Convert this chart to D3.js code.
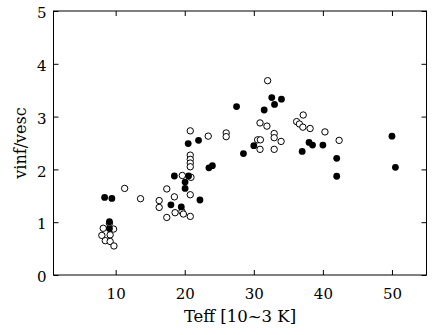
<!DOCTYPE html>
<html>
<head>
<meta charset="utf-8">
<script src="https://cdn.jsdelivr.net/npm/d3@7"></script>
<style>
  body { margin: 0; background: #fff; }
  text { font-family: "DejaVu Serif", serif; fill: #000; }
</style>
</head>
<body>
<div id="chart"></div>
<script>
// Data (Teff in 10^3 K, vinf/vesc)
const filledTeff = [8.4, 9.45, 9.1, 9.1, 18.0, 19.5, 20.05, 20.05, 18.5, 20.55, 22.2, 20.5, 22.0, 24.0, 23.5,
  27.5, 28.5, 30.0, 31.5, 32.6, 33.0, 34.0, 37.0, 38.0, 38.5, 40.0, 42.0, 42.0, 50.0, 50.5];
const filledRatio = [1.47, 1.45, 1.01, 0.88, 1.33, 1.29, 1.76, 1.64, 1.875, 1.875, 1.42, 2.49, 2.55, 2.07, 2.03,
  3.19, 2.30, 2.45, 3.125, 3.36, 3.23, 3.33, 2.34, 2.51, 2.46, 2.46, 2.21, 1.87, 2.63, 2.04];

const openTeff = [11.3, 13.6, 8.2, 9.7, 8.0, 9.2, 8.5, 9.2, 9.75, 9.1, 16.3, 16.3, 17.4, 18.5, 18.6, 19.6, 19.8,
  17.4, 20.8, 20.8, 19.65, 20.9, 20.8, 20.8, 20.8, 20.8, 20.8, 23.4, 26.0, 26.0, 30.55, 30.95, 30.9, 30.9, 31.9,
  32.0, 32.95, 32.95, 33.95, 32.95, 36.2, 36.6, 37.15, 37.1, 38.15, 40.3, 42.35];
const openRatio = [1.64, 1.445, 0.885, 0.87, 0.75, 0.76, 0.65, 0.635, 0.55, 0.98, 1.41, 1.28, 1.63, 1.48, 1.18, 1.2, 1.155,
  1.09, 1.11, 1.52, 1.885, 1.85, 2.27, 2.19, 2.12, 2.05, 2.73, 2.63, 2.69, 2.62, 2.56, 2.56, 2.38, 2.88, 2.82,
  3.68, 2.68, 2.6, 2.53, 2.38, 2.905, 2.86, 3.03, 2.8, 2.775, 2.71, 2.55];

const xTicks = [10, 20, 30, 40, 50];
const yTicks = [0, 1, 2, 3, 4, 5];

// Dimensions
const width = 437, height = 335;
const margin = { left: 53.5, right: 10.5, top: 11, bottom: 60 };
const ctrWidth = width - margin.left - margin.right;
const ctrHeight = height - margin.top - margin.bottom;

const svg = d3.select("#chart").append("svg")
  .attr("width", width)
  .attr("height", height);

const ctr = svg.append("g")
  .attr("transform", `translate(${margin.left}, ${margin.top})`);

// Scales
const xScale = d3.scaleLinear().domain([1, 55]).range([0, ctrWidth]);
const yScale = d3.scaleLinear().domain([0, 5]).range([ctrHeight, 0]);

// Frame
ctr.append("rect")
  .attr("width", ctrWidth)
  .attr("height", ctrHeight)
  .attr("fill", "none")
  .attr("stroke", "#000")
  .attr("stroke-width", 1);

// Axes (inward ticks on all four sides)
const tickLen = 5;
const fmt = d3.format("d");
const bottomAxis = ctr.append("g")
  .attr("transform", `translate(0, ${ctrHeight})`)
  .call(d3.axisBottom(xScale).tickValues(xTicks).tickSize(-tickLen).tickPadding(13).tickFormat(fmt));
const topAxis = ctr.append("g")
  .call(d3.axisTop(xScale).tickValues(xTicks).tickSize(-tickLen).tickFormat(""));
const leftAxis = ctr.append("g")
  .call(d3.axisLeft(yScale).tickValues(yTicks).tickSize(-tickLen).tickPadding(7).tickFormat(fmt));
const rightAxis = ctr.append("g")
  .attr("transform", `translate(${ctrWidth}, 0)`)
  .call(d3.axisRight(yScale).tickValues(yTicks).tickSize(-tickLen).tickFormat(""));

[bottomAxis, topAxis, leftAxis, rightAxis].forEach((g) => {
  g.select(".domain").remove();
  g.selectAll("line").attr("stroke", "#000");
  g.selectAll("text")
    .style("font-family", "DejaVu Serif, serif")
    .style("font-size", "15px")
    .attr("fill", "#000");
});
leftAxis.selectAll("text").attr("dy", "0.45em");

// Points
const filled = d3.zip(filledTeff, filledRatio);
const open = d3.zip(openTeff, openRatio);

ctr.append("g").selectAll("circle")
  .data(open)
  .join("circle")
  .attr("cx", (d) => xScale(d[0]))
  .attr("cy", (d) => yScale(d[1]))
  .attr("r", 3.2)
  .attr("fill", "#fff")
  .attr("stroke", "#000")
  .attr("stroke-width", 1);

ctr.append("g").selectAll("circle")
  .data(filled)
  .join("circle")
  .attr("cx", (d) => xScale(d[0]))
  .attr("cy", (d) => yScale(d[1]))
  .attr("r", 3.4)
  .attr("fill", "#000");

// Axis titles
svg.append("text")
  .attr("x", margin.left + ctrWidth / 2)
  .attr("y", 322)
  .attr("text-anchor", "middle")
  .style("font-size", "16.5px")
  .text("Teff [10~3 K]");

svg.append("text")
  .attr("transform", `translate(26, ${margin.top + ctrHeight / 2}) rotate(-90)`)
  .attr("text-anchor", "middle")
  .style("font-size", "16px")
  .text("vinf/vesc");
</script>
</body>
</html>
